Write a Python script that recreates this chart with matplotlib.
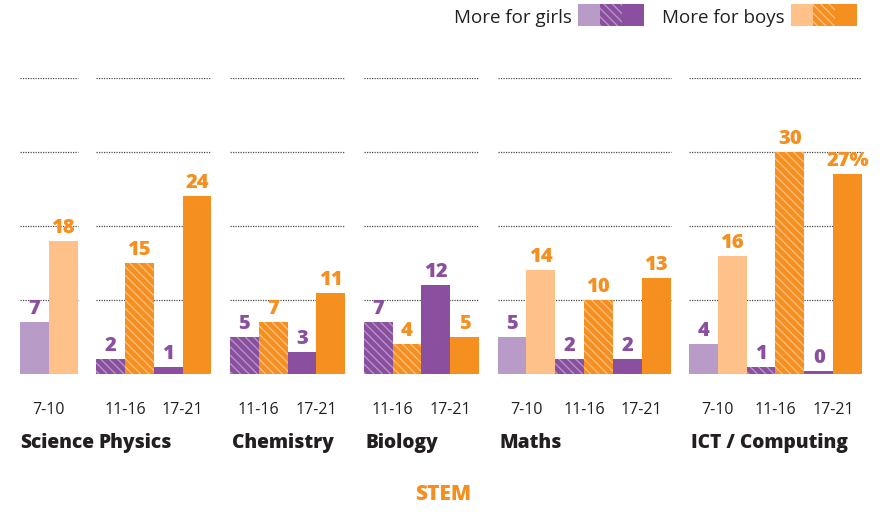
import numpy as np
import matplotlib
matplotlib.use('Agg')
import matplotlib.pyplot as plt
from matplotlib.patches import Rectangle

# Data (percentage point gaps)
subjects = ['Science', 'Physics', 'Chemistry', 'Biology', 'Maths', 'ICT / Computing']
age_bands = [['7-10'], ['11-16', '17-21'], ['11-16', '17-21'], ['11-16', '17-21'],
             ['7-10', '11-16', '17-21'], ['7-10', '11-16', '17-21']]
girls_pct = [[7], [2, 1], [5, 3], [7, 12], [5, 2, 2], [4, 1, 0]]
boys_pct = [[18], [15, 24], [7, 11], [4, 5], [14, 10, 13], [16, 30, 27]]
last_suffix = '%'

# Colours
purple_light = '#B99BC8'
purple = '#8B4FA0'
orange_light = '#FDC189'
orange = '#F58F1F'
text_dark = '#231F20'

plt.rcParams['font.family'] = ['Open Sans', 'DejaVu Sans']
plt.rcParams['hatch.linewidth'] = 0.9
BOLD = 800

band_style = {
    '7-10': dict(girls=dict(color=purple_light), boys=dict(color=orange_light)),
    '11-16': dict(girls=dict(color=purple, hatch='\\\\\\\\', edgecolor=purple_light),
                  boys=dict(color=orange, hatch='\\\\\\\\', edgecolor=orange_light)),
    '17-21': dict(girls=dict(color=purple), boys=dict(color=orange)),
}

fig = plt.figure(figsize=(8.87, 5.12), dpi=100)
W, H = 887, 512
ax = fig.add_axes([20 / W, (H - 374) / H, 842 / W, 296 / H])

gap = 0.64
x = 0.0
for gi, subj in enumerate(subjects):
    start = x
    n_bands = len(age_bands[gi])
    for bi, band in enumerate(age_bands[gi]):
        g = girls_pct[gi][bi]
        b = boys_pct[gi][bi]
        st = band_style[band]
        ax.bar(x, max(g, 0.4), width=1, align='edge', linewidth=0, zorder=3, **st['girls'])
        ax.bar(x + 1, b, width=1, align='edge', linewidth=0, zorder=3, **st['boys'])
        ax.annotate(str(g), xy=(x + 0.5, max(g, 0.4)), xytext=(0, 3), textcoords='offset pixels',
                    ha='center', va='bottom', fontsize=14.5, fontweight=BOLD, color=purple)
        blabel = str(b)
        if gi == len(subjects) - 1 and bi == n_bands - 1:
            blabel += last_suffix
        ax.annotate(blabel, xy=(x + 1.5, b), xytext=(0, 3), textcoords='offset pixels',
                    ha='center', va='bottom', fontsize=14.5, fontweight=BOLD, color=orange)
        ax.annotate(band, xy=(x + 1, 0), xytext=(0, -36), textcoords='offset pixels',
                    ha='center', va='center', fontsize=11.5, color=text_dark)
        x += 2
    end = x
    for yv in [10, 20, 30, 40]:
        ax.hlines(yv, start, end, colors='#4D4D4D', linestyles=(0, (1, 1)), linewidth=0.9, zorder=1)
    ax.annotate(subj, xy=(start, 0), xytext=(2 if gi else 0, -69), textcoords='offset pixels',
                ha='left', va='center', fontsize=13.8, fontweight=BOLD, color=text_dark)
    x += gap

ax.set_xlim(0, x - gap)
ax.set_ylim(0, 40)
ax.axis('off')

# STEM label
fig.text(443 / W, 1 - 495 / H, 'STEM', ha='center', va='center', fontsize=15,
         fontweight=BOLD, color=orange)

# Legend drawn as swatches
def swatches(x0, light, dark, hatch_col):
    sw = 22
    for i, (fc, hatch, ec) in enumerate([(light, None, light), (dark, '\\\\\\\\', hatch_col), (dark, None, dark)]):
        r = Rectangle(((x0 + i * sw) / W, 1 - 26 / H), sw / W, 22 / H, transform=fig.transFigure,
                      facecolor=fc, edgecolor=ec, hatch=hatch, linewidth=0)
        fig.patches.append(r)

fig.text(572 / W, 1 - 18 / H, 'More for girls', ha='right', va='center', fontsize=13.5, color=text_dark)
swatches(578, purple_light, purple, purple_light)
fig.text(785 / W, 1 - 18 / H, 'More for boys', ha='right', va='center', fontsize=13.5, color=text_dark)
swatches(791, orange_light, orange, orange_light)

fig.savefig('out.png', dpi=100)
